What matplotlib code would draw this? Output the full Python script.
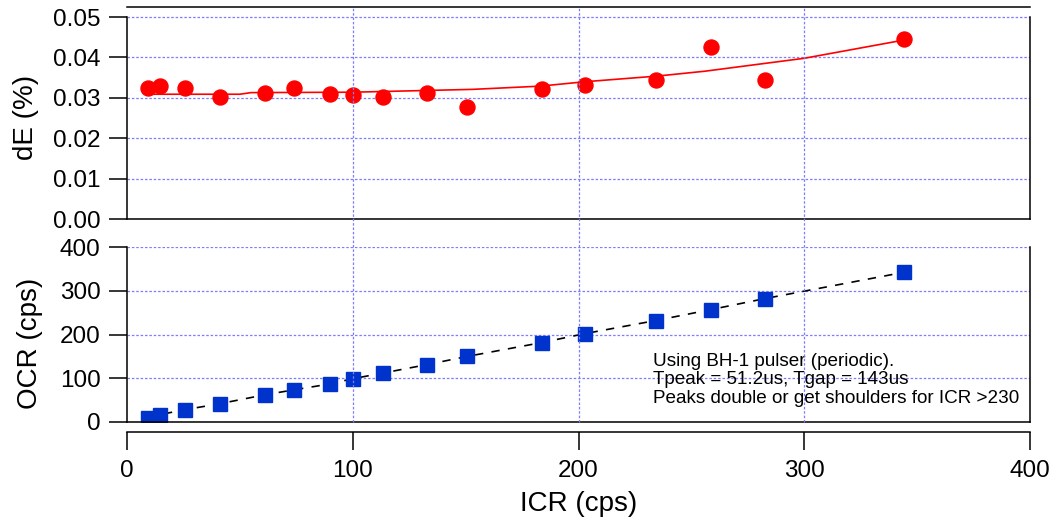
import numpy as np
import matplotlib
matplotlib.use("Agg")
import matplotlib.pyplot as plt
from matplotlib.lines import Line2D
from matplotlib.transforms import blended_transform_factory
from matplotlib.ticker import FormatStrFormatter

plt.rcParams['font.family'] = ['Liberation Sans', 'DejaVu Sans']

# -----------------------------
# Data
# -----------------------------
icr = [9.2, 14.4, 25.5, 41.0, 61.0, 73.9, 89.9, 100.0, 113.5, 132.7,
       150.8, 183.7, 202.8, 234.3, 258.7, 282.5, 344.0]
de = [0.0324, 0.0329, 0.0325, 0.0301, 0.0313, 0.0324, 0.0309, 0.0308, 0.0301, 0.0313,
      0.0278, 0.0321, 0.0333, 0.0344, 0.0426, 0.0344, 0.0445]
ocr = [9.8, 16.7, 28.0, 41.7, 62.1, 73.5, 87.0, 99.0, 112.0, 131.0,
       150.0, 181.5, 202.0, 232.0, 257.0, 282.0, 342.0]

# fitted curve in the dE panel
fit_x = [9.2, 50, 55, 100, 153, 183, 203, 235, 256, 300, 344]
fit_y = [0.0309, 0.0309, 0.0313, 0.0314, 0.0321, 0.0329, 0.0340, 0.0354, 0.0366, 0.0398, 0.0443]

note = ("Using BH-1 pulser (periodic).\n"
        "Tpeak = 51.2us, Tgap = 143us\n"
        "Peaks double or get shoulders for ICR >230")

# -----------------------------
# Figure layout
# -----------------------------
W, H = 1057, 520
fig = plt.figure(figsize=(W / 100, H / 100), dpi=100)
ax1 = fig.add_axes([127 / W, 1 - 219 / H, 903 / W, 212 / H])
ax2 = fig.add_axes([127 / W, 1 - 422 / H, 903 / W, 175 / H])

grid_kw = dict(color='#7c7cff', linestyle=(0, (2, 1.5)), linewidth=0.9)
tick_kw = dict(direction='out', length=13, width=1.1, labelsize=17.5, color='black')

# -----------------------------
# Top panel: dE
# -----------------------------
ax1.plot(fit_x, fit_y, color='red', lw=1.2, zorder=3)
ax1.plot(icr, de, 'o', color='red', ms=10.8, mec='red', zorder=4)
ax1.set_xlim(0, 400)
ax1.set_ylim(0, 0.0525)
ax1.set_yticks([0, 0.01, 0.02, 0.03, 0.04, 0.05])
ax1.yaxis.set_major_formatter(FormatStrFormatter('%.2f'))
ax1.set_xticks([])
ax1.spines['left'].set_bounds(0, 0.05)
ax1.spines['right'].set_bounds(0, 0.05)
for s in ax1.spines.values():
    s.set_linewidth(1.1)
ax1.tick_params(axis='y', pad=6, **tick_kw)
ax1.yaxis.grid(True, **grid_kw)
ax1.set_axisbelow(True)
ax1.set_ylabel('dE (%)', fontsize=20)
ax1.yaxis.set_label_coords(-0.112, 0.48)
ax1.yaxis.label.set_va('center')

# -----------------------------
# Bottom panel: OCR
# -----------------------------
ax2.plot(icr, ocr, color='black', lw=1.2, linestyle=(0, (5, 5)), zorder=3)
ax2.plot(icr, ocr, 's', color='#0033cc', ms=10.5, mec='#0033cc', zorder=4)
ax2.set_xlim(0, 400)
ax2.set_ylim(0, 400)
ax2.set_yticks([0, 100, 200, 300, 400])
ax2.set_xticks([0, 100, 200, 300, 400])
ax2.spines['top'].set_visible(False)
ax2.spines['bottom'].set_position(('outward', 7.2))
for s in ax2.spines.values():
    s.set_linewidth(1.1)
ax2.axhline(0, color='black', lw=1.1, clip_on=False, zorder=5)
ax2.tick_params(axis='both', **tick_kw)
ax2.tick_params(axis='y', pad=6)
ax2.tick_params(axis='x', pad=7)
ax2.yaxis.grid(True, **grid_kw)
ax2.set_axisbelow(True)
ax2.set_ylabel('OCR (cps)', fontsize=20)
ax2.yaxis.set_label_coords(-0.107, 0.45)
ax2.yaxis.label.set_va('center')
ax2.set_xlabel('ICR (cps)', fontsize=20)
ax2.xaxis.set_label_coords(0.5, -0.47)
ax2.xaxis.label.set_va('center')

ax2.text(233, 158, note, fontsize=13.6, va='top', ha='left', linespacing=1.12)

# vertical grid lines running through both panels
trans = blended_transform_factory(ax2.transData, fig.transFigure)
for xv in [100, 200, 300]:
    fig.add_artist(Line2D([xv, xv], [1 - 422 / H, 1 - 7 / H], transform=trans,
                          zorder=0.5, **grid_kw))

fig.savefig('out.png', dpi=100)
